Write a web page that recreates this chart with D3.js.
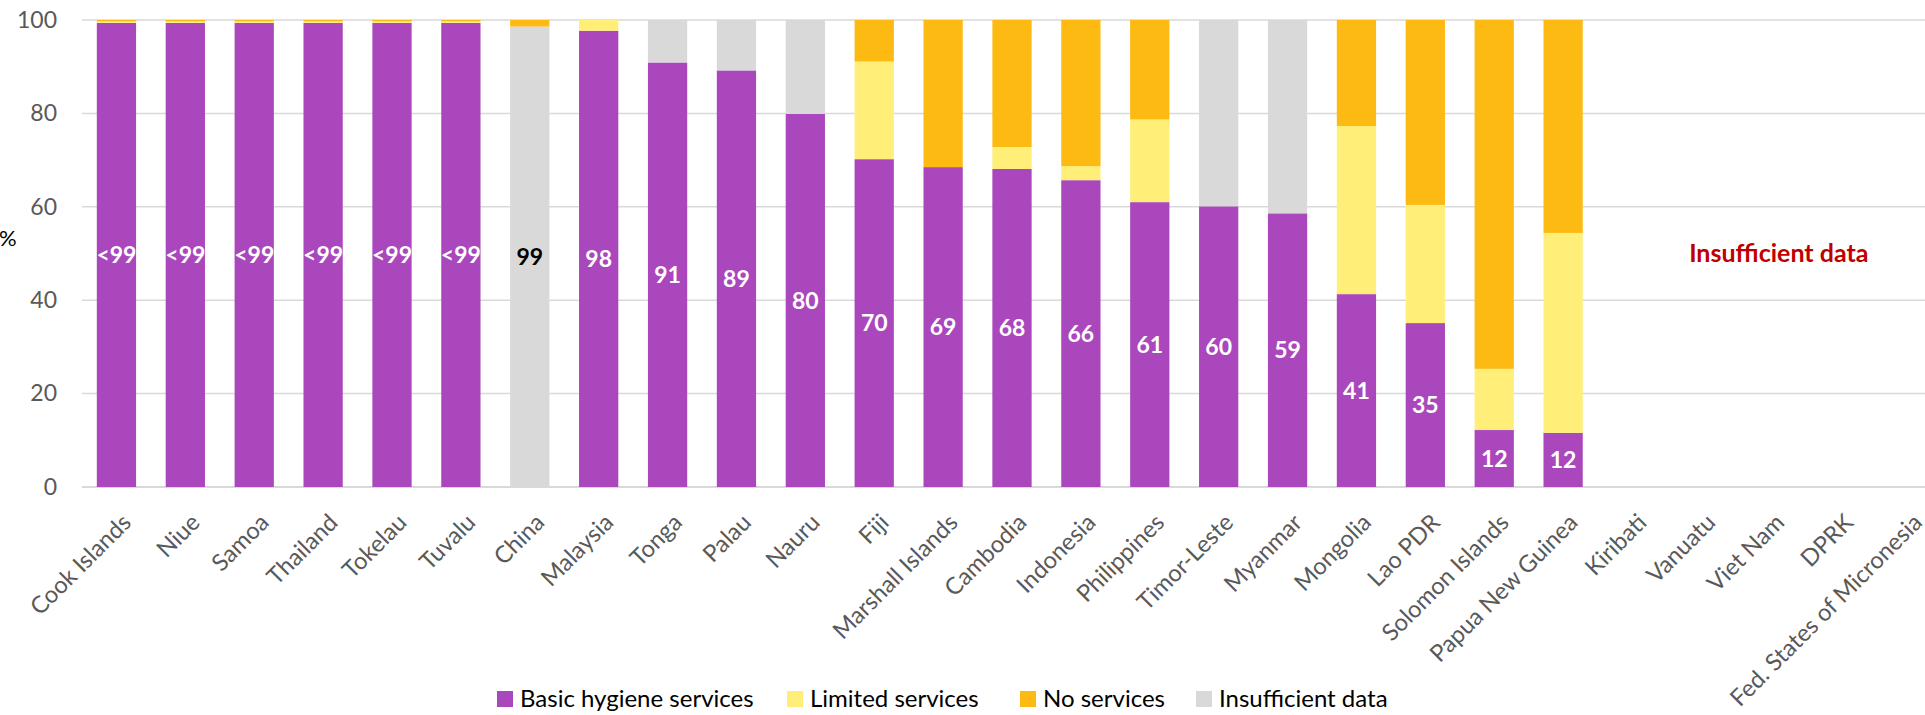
<!DOCTYPE html>
<html>
<head>
<meta charset="utf-8">
<script src="https://cdn.jsdelivr.net/npm/d3@7"></script>
<style>
    html, body { margin: 0; padding: 0; background: #fff; }
    svg { display: block; font-family: Lato, "Open Sans", sans-serif; }
</style>
</head>
<body>
<div id="chart"></div>
<script>
'use strict';

// Countries, in the order they are shown
var countries = ["Cook Islands", "Niue", "Samoa", "Thailand", "Tokelau", "Tuvalu", "China",
    "Malaysia", "Tonga", "Palau", "Nauru", "Fiji", "Marshall Islands", "Cambodia", "Indonesia",
    "Philippines", "Timor-Leste", "Myanmar", "Mongolia", "Lao PDR", "Solomon Islands",
    "Papua New Guinea", "Kiribati", "Vanuatu", "Viet Nam", "DPRK", "Fed. States of Micronesia"];

// Series values (%), null = no data at all
var basic   = [99.4, 99.4, 99.4, 99.4, 99.4, 99.4, 0, 97.7, 90.9, 89.2, 79.9, 70.2, 68.5, 68.1, 65.7,
               61.0, 60.1, 58.6, 41.3, 35.1, 12.2, 11.6, null, null, null, null, null];
var limited = [0.3, 0.3, 0.3, 0.3, 0.3, 0.3, 0, 2.3, 0, 0, 0, 20.9, 0, 4.7, 3.0,
               17.7, 0, 0, 36.0, 25.3, 13.1, 42.8, null, null, null, null, null];
var noServ  = [0.3, 0.3, 0.3, 0.3, 0.3, 0.3, 1.4, 0, 0, 0, 0, 8.9, 31.5, 27.2, 31.3,
               21.3, 0, 0, 22.7, 39.6, 74.7, 45.6, null, null, null, null, null];
var insuff  = [0, 0, 0, 0, 0, 0, 98.6, 0, 9.1, 10.8, 20.1, 0, 0, 0, 0,
               0, 39.9, 41.4, 0, 0, 0, 0, null, null, null, null, null];

// Label shown on each bar
var barLabels = ["<99", "<99", "<99", "<99", "<99", "<99", "99", "98", "91", "89", "80", "70", "69", "68", "66",
                 "61", "60", "59", "41", "35", "12", "12", "", "", "", "", ""];

var seriesNames = ["Basic hygiene services", "Limited services", "No services", "Insufficient data"];
var yTicks = [0, 20, 40, 60, 80, 100];

(function() {

    // colours by key; legend order differs from stacking order
    var colorOf = { basic: "#AB47BC", limited: "#FFEF78", none: "#FDBA13", insuff: "#D9D9D9" };
    var legendKeys = ["basic", "limited", "none", "insuff"];
    var stackKeys = ["basic", "limited", "insuff", "none"];

    var width = 1925, height = 715;
    var margin = { left: 82, right: -17, top: 20, bottom: 228 };

    var svg = d3.select("#chart")
        .append("svg")
            .attr("width", width)
            .attr("height", height);

    // turn the arrays into rows for d3.stack
    var rows = countries.map(function(c, i) {
        return { country: c, basic: basic[i] || 0, limited: limited[i] || 0,
                 none: noServ[i] || 0, insuff: insuff[i] || 0, label: barLabels[i], idx: i };
    });

    var x = d3.scaleBand()
        .domain(countries)
        .range([margin.left, width - margin.right])
        .paddingInner(0.43)
        .paddingOuter(0.215);

    var y = d3.scaleLinear()
        .domain([0, 100])
        .range([height - margin.bottom, margin.top]);

    // gridlines
    svg.append("g")
        .selectAll("line")
        .data(yTicks)
        .enter()
        .append("line")
            .attr("x1", margin.left)
            .attr("x2", width - margin.right)
            .attr("y1", function(d) { return y(d); })
            .attr("y2", function(d) { return y(d); })
            .attr("stroke", "#D9D9D9")
            .attr("stroke-width", function(d) { return d === 0 ? 2 : 1.5; });

    // y axis labels
    var yAxis = d3.axisLeft(y).tickValues(yTicks).tickSize(0).tickPadding(0);
    var ya = svg.append("g")
        .attr("transform", "translate(" + 57 + ",0)")
        .call(yAxis);
    ya.select(".domain").remove();
    ya.selectAll("text")
        .attr("fill", "#595959")
        .style("font-size", "23px")
        .style("font-family", "Lato, sans-serif");

    svg.append("text")
        .attr("x", -1)
        .attr("y", 238)
        .attr("dy", "0.35em")
        .attr("fill", "#000")
        .style("font-size", "22px")
        .text("%");

    // stacked bars
    var stack = d3.stack().keys(stackKeys);
    var series = stack(rows);

    svg.append("g")
        .selectAll("g")
        .data(series)
        .enter()
        .append("g")
            .attr("fill", function(d) { return colorOf[d.key]; })
        .selectAll("rect")
        .data(function(d) { return d; })
        .enter()
        .append("rect")
            .attr("x", function(d) { return x(d.data.country); })
            .attr("y", function(d) { return y(d[1]); })
            .attr("width", x.bandwidth())
            .attr("height", function(d) { return Math.max(0, y(d[0]) - y(d[1])); });

    // data labels, centred in the basic segment (or the grey one for China)
    svg.append("g")
        .selectAll("text")
        .data(rows.filter(function(r) { return r.label !== ""; }))
        .enter()
        .append("text")
            .attr("x", function(d) { return x(d.country) + x.bandwidth() / 2; })
            .attr("y", function(d) {
                var v = d.basic > 0 ? d.basic : d.insuff;
                return y(v / 2);
            })
            .attr("dy", "0.36em")
            .attr("text-anchor", "middle")
            .attr("fill", function(d) { return d.basic > 0 ? "#fff" : "#000"; })
            .style("font-size", "23px")
            .style("font-weight", "bold")
            .text(function(d) { return d.label; });

    // note over the countries with no data
    var missing = rows.filter(function(r) { return basic[r.idx] === null; });
    var mx = (x(missing[0].country) + x(missing[missing.length - 1].country) + x.bandwidth()) / 2;
    svg.append("text")
        .attr("x", mx + 9)
        .attr("y", y(50))
        .attr("dy", "0.35em")
        .attr("text-anchor", "middle")
        .attr("fill", "#C00000")
        .style("font-size", "25px")
        .style("font-weight", "bold")
        .text("Insufficient data");

    // category labels, rotated
    var catLabels = svg.append("g")
        .selectAll("text")
        .data(countries)
        .enter()
        .append("text")
            .attr("transform", function(d) {
                return "translate(" + (x(d) + x.bandwidth() / 2 + 4) + "," + 512 + ") rotate(-45)";
            })
            .attr("dy", "0.72em")
            .attr("text-anchor", "end")
            .attr("fill", "#595959")
            .style("font-size", "20px")
            .text(function(d) { return d; });

    // size the labels so the longest one fits the bottom edge like the original
    var longest = d3.max(catLabels.nodes(), function(n) { return n.getComputedTextLength(); });
    catLabels.style("font-size", (20 * 260 / longest) + "px");

    // legend
    var legendX = [497, 787, 1020, 1196];
    var legend = svg.append("g")
        .selectAll("g")
        .data(seriesNames)
        .enter()
        .append("g")
            .attr("transform", function(d, i) { return "translate(" + legendX[i] + "," + 699 + ")"; });

    legend.append("rect")
        .attr("x", 0)
        .attr("y", -8)
        .attr("width", 16)
        .attr("height", 16)
        .attr("fill", function(d, i) { return colorOf[legendKeys[i]]; });

    legend.append("text")
        .attr("x", 23)
        .attr("dy", "0.35em")
        .attr("fill", "#000")
        .style("font-size", "24px")
        .text(function(d) { return d; });

})();
</script>
</body>
</html>
